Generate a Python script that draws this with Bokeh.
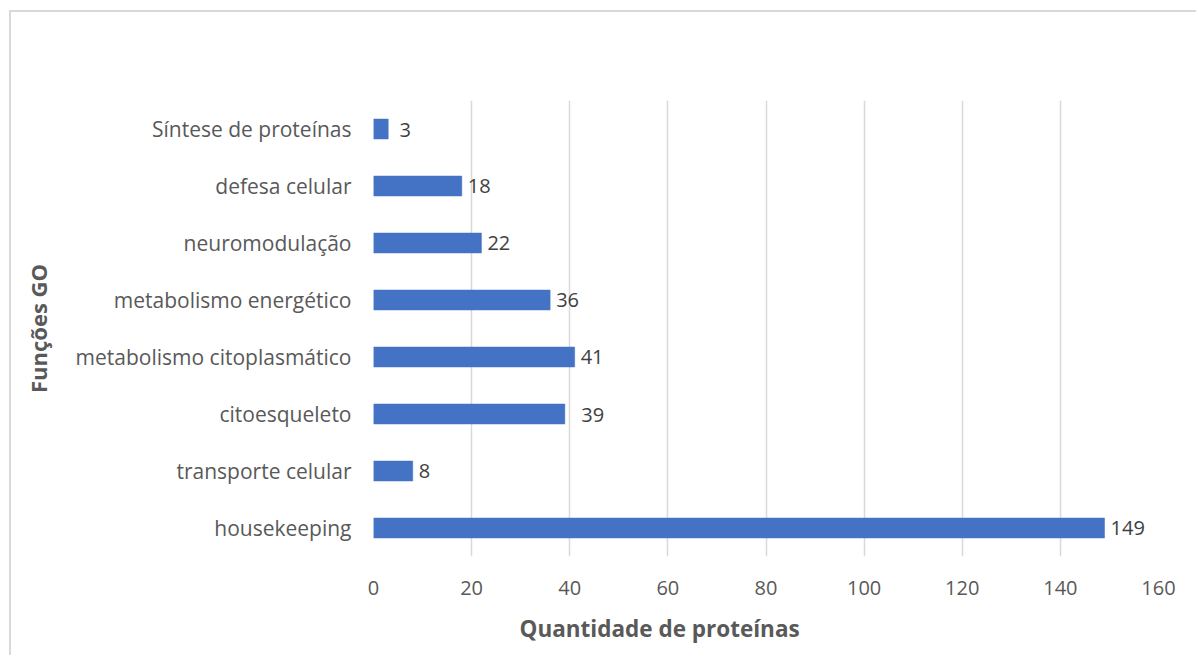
from bokeh.plotting import figure
from bokeh.models import FactorRange, Range1d, ColumnDataSource, FixedTicker, Title
from bokeh.core.properties import value
from bokeh.embed import file_html
from bokeh.resources import INLINE

# Gene Ontology functional groups (bottom to top) and protein counts
categories = [
    "housekeeping",
    "transporte celular",
    "citoesqueleto",
    "metabolismo citoplasmático",
    "metabolismo energético",
    "neuromodulação",
    "defesa celular",
    "Síntese de proteínas",
]
counts = [149, 8, 39, 41, 36, 22, 18, 3]
# data labels; two carry leading (non-breaking) spaces
count_labels = ["149", "8", "\u00a0\u00a039", "41", "36", "22", "18", "\u00a03"]
x_ticks = [0, 20, 40, 60, 80, 100, 120, 140, 160]

FONT = "Open Sans"
BAR_COLOR = "#4472C4"
GRID_COLOR = "#D9D9D9"
TEXT_GREY = "#595959"
LABEL_GREY = "#404040"

source = ColumnDataSource(dict(cat=categories, n=counts, lbl=count_labels))

p = figure(
    width=1187,
    height=645,
    y_range=FactorRange(factors=categories, range_padding=0),
    x_range=Range1d(0, 160),
    output_backend="svg",
    toolbar_location=None,
    min_border_left=362,
    min_border_right=40,
    min_border_top=88,
    min_border_bottom=101,
)
p.margin = (10, 0, 0, 9)
p.styles = {
    "border-left": "2px solid #D9D9D9",
    "border-top": "2px solid #D9D9D9",
}
p.outline_line_color = None
p.background_fill_color = "white"
p.border_fill_color = "white"

p.hbar(y="cat", right="n", left=0, height=0.35, source=source,
       fill_color=BAR_COLOR, line_color=BAR_COLOR, line_width=0.5)

p.text(x="n", y="cat", text="lbl", source=source, x_offset=6,
       text_align="left", text_baseline="middle",
       text_font=value(FONT), text_font_size="20px", text_color=LABEL_GREY)

# x axis
p.xaxis.ticker = FixedTicker(ticks=x_ticks)
p.xaxis.axis_line_color = None
p.xaxis.major_tick_line_color = None
p.xaxis.minor_tick_line_color = None
p.xaxis.major_label_standoff = 18
p.xaxis.major_label_text_font = FONT
p.xaxis.major_label_text_font_size = "20px"
p.xaxis.major_label_text_color = TEXT_GREY

# y axis
p.yaxis.axis_line_color = None
p.yaxis.major_tick_line_color = None
p.yaxis.minor_tick_line_color = None
p.yaxis.major_label_standoff = 16
p.yaxis.major_label_text_font = FONT
p.yaxis.major_label_text_font_size = "21px"
p.yaxis.major_label_text_color = TEXT_GREY
p.yaxis.axis_label = "Funções GO"
p.yaxis.axis_label_standoff = 20
p.yaxis.axis_label_text_font = FONT
p.yaxis.axis_label_text_font_size = "22px"
p.yaxis.axis_label_text_font_style = "bold"
p.yaxis.axis_label_text_color = TEXT_GREY

p.xgrid.grid_line_color = GRID_COLOR
p.xgrid.grid_line_width = 1.5
p.ygrid.grid_line_color = None

# x axis title, set left of the frame centre
p.add_layout(Title(
    text="Quantidade de proteínas", align="left", offset=146, standoff=26,
    text_font=FONT, text_font_size="22.5px", text_font_style="bold",
    text_color=TEXT_GREY,
), "below")

open("out.html", "w").write(file_html(p, INLINE))
